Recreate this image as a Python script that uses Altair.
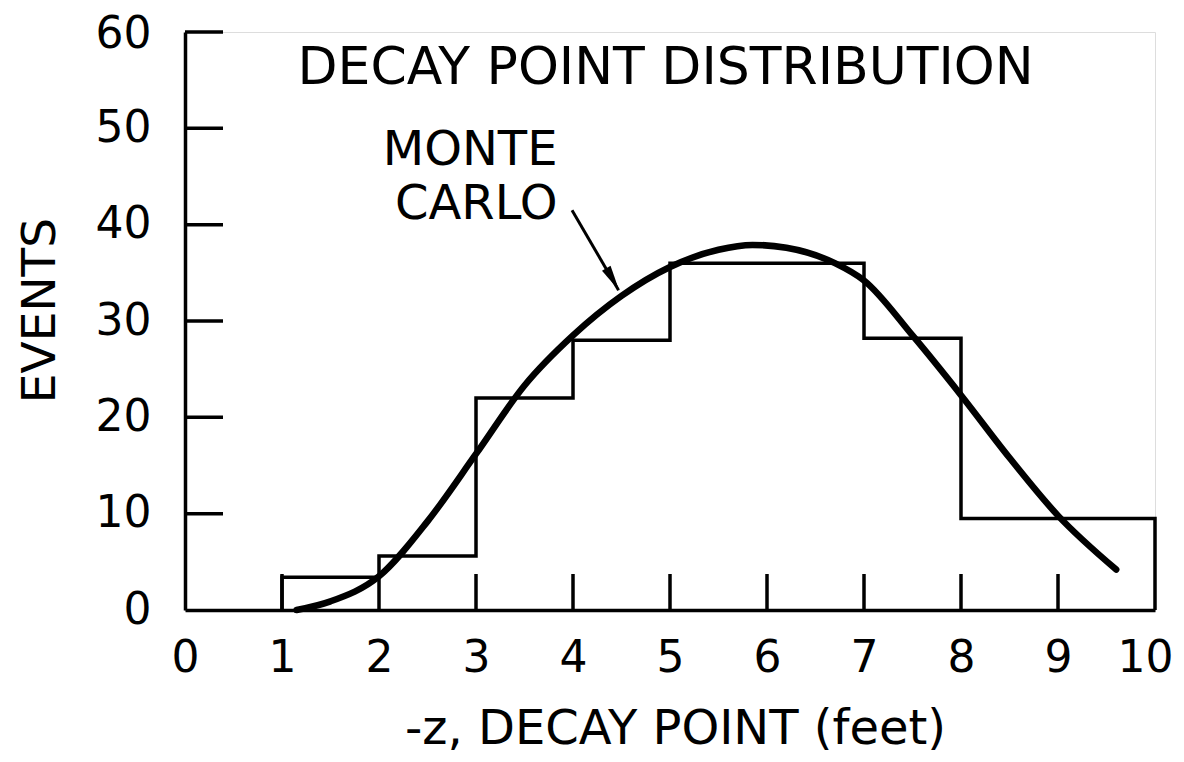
import altair as alt
import pandas as pd

# ---- data ----
bin_edges = [1, 2, 3, 4, 5, 6, 7, 8, 9, 10]
bin_counts = [3.4, 5.6, 22.0, 28.0, 36.0, 36.0, 28.2, 9.5, 9.5]

mc_x = [1.15, 1.5, 2.0, 2.5, 3.0, 3.5, 4.0, 4.5, 5.0, 5.5, 5.85, 6.2, 6.7, 7.0, 7.5, 8.0, 8.5, 9.0, 9.6]
mc_y = [0.0, 0.9, 3.5, 9.2, 16.2, 23.3, 28.5, 32.6, 35.6, 37.4, 37.9, 37.6, 36.0, 34.2, 28.5, 22.3, 15.8, 9.8, 4.2]

x_ticks = [1, 2, 3, 4, 5, 6, 7, 8, 9]
y_ticks = [10, 20, 30, 40, 50, 60]
x_labels = [0, 1, 2, 3, 4, 5, 6, 7, 8, 9, 10]
y_labels = [0, 10, 20, 30, 40, 50, 60]

title_text = "DECAY POINT DISTRIBUTION"
title_pos = (1.16, 56.3)
mc_label = ["MONTE", "CARLO"]
mc_label_x = [3.84, 3.84]
mc_label_y = [47.6, 42.0]
arrow_x = [3.99, 4.47]
arrow_y = [41.5, 33.2]
arrowhead = (4.41, 34.3)

FONT = "DejaVu Sans"
W, H = 970, 578

# ---- tables ----
step_x = [bin_edges[0]] + bin_edges[:-1] + [bin_edges[-1], bin_edges[-1]]
step_y = [0] + bin_counts + [bin_counts[-1], 0]
hist_df = pd.DataFrame({"x": step_x, "y": step_y, "o": list(range(len(step_x)))})
mc_df = pd.DataFrame({"x": mc_x, "y": mc_y})
xt_df = pd.DataFrame({"x": x_ticks})
yt_df = pd.DataFrame({"y": y_ticks})
lab_df = pd.DataFrame({"t": mc_label, "x": mc_label_x, "y": mc_label_y})
arr_df = pd.DataFrame({"x": arrow_x, "y": arrow_y, "o": [0, 1]})
head_df = pd.DataFrame({"x": [arrowhead[0]], "y": [arrowhead[1]]})
title_df = pd.DataFrame({"t": [title_text], "x": [title_pos[0]], "y": [title_pos[1]]})

xs = alt.Scale(domain=[0, 10], nice=False, zero=False)
ys = alt.Scale(domain=[0, 60], nice=False)

x_axis = alt.Axis(
    values=x_labels, format="d", ticks=False, grid=False, domainColor="black",
    domainWidth=3.5,
    labelFont=FONT, labelFontSize=44, labelColor="black", labelPadding=26,
    labelFlush=False,
    labelOffset={"condition": {"test": "datum.value == 10", "value": -10}, "value": 0},
    title="-z, DECAY POINT (feet)", titleFont=FONT, titleFontSize=48,
    titleFontWeight="normal", titleColor="black",
    titleX=490, titleY=119, titleBaseline="middle", titleAlign="center",
)
y_axis = alt.Axis(
    values=y_labels, format="d", ticks=False, grid=False, domainColor="black",
    domainWidth=3.5,
    labelFont=FONT, labelFontSize=44, labelColor="black", labelPadding=34,
    labelFlush=False,
    labelOffset={"condition": {"test": "datum.value == 60", "value": 2}, "value": 0},
    title="EVENTS", titleFont=FONT, titleFontSize=47, titleFontWeight="normal",
    titleColor="black", titleAngle=-90, titleX=-145, titleY=278,
    titleBaseline="middle", titleAlign="center",
)

hist = alt.Chart(hist_df).mark_line(
    interpolate="step-after", color="black", strokeWidth=3.5
).encode(
    x=alt.X("x:Q", scale=xs, axis=x_axis),
    y=alt.Y("y:Q", scale=ys, axis=y_axis),
    order="o:Q",
)

mc = alt.Chart(mc_df).mark_line(
    interpolate="monotone", color="black", strokeWidth=6.5, strokeCap="round"
).encode(x=alt.X("x:Q", scale=xs), y=alt.Y("y:Q", scale=ys))

xticks = alt.Chart(xt_df).mark_rule(color="black", strokeWidth=3.5).encode(
    x=alt.X("x:Q", scale=xs), y=alt.value(H), y2=alt.value(H - 36)
)
yticks = alt.Chart(yt_df).mark_rule(color="black", strokeWidth=3.5).encode(
    y=alt.Y("y:Q", scale=ys), x=alt.value(0), x2=alt.value(38)
)

title = alt.Chart(title_df).mark_text(
    font=FONT, fontSize=52, align="left", baseline="middle", color="black"
).encode(x=alt.X("x:Q", scale=xs), y=alt.Y("y:Q", scale=ys), text="t:N")

labels = alt.Chart(lab_df).mark_text(
    font=FONT, fontSize=48, align="right", baseline="middle", color="black"
).encode(x=alt.X("x:Q", scale=xs), y=alt.Y("y:Q", scale=ys), text="t:N")

arrow = alt.Chart(arr_df).mark_line(color="black", strokeWidth=3).encode(
    x=alt.X("x:Q", scale=xs), y=alt.Y("y:Q", scale=ys), order="o:Q"
)
head = alt.Chart(head_df).mark_point(
    shape="M0,-1L0.38,1L-0.38,1Z", filled=True, color="black", opacity=1,
    size=676, angle=150
).encode(x=alt.X("x:Q", scale=xs), y=alt.Y("y:Q", scale=ys))

chart = alt.layer(hist, mc, xticks, yticks, title, labels, arrow, head).properties(
    width=W, height=H,
    autosize=alt.AutoSizeParams(type="none"),
    padding={"left": 177, "top": 24, "right": 21, "bottom": 144},
).configure_view(stroke=None).configure(background="white")

chart.save("out.html", embed_options={"renderer": "svg", "actions": False})
